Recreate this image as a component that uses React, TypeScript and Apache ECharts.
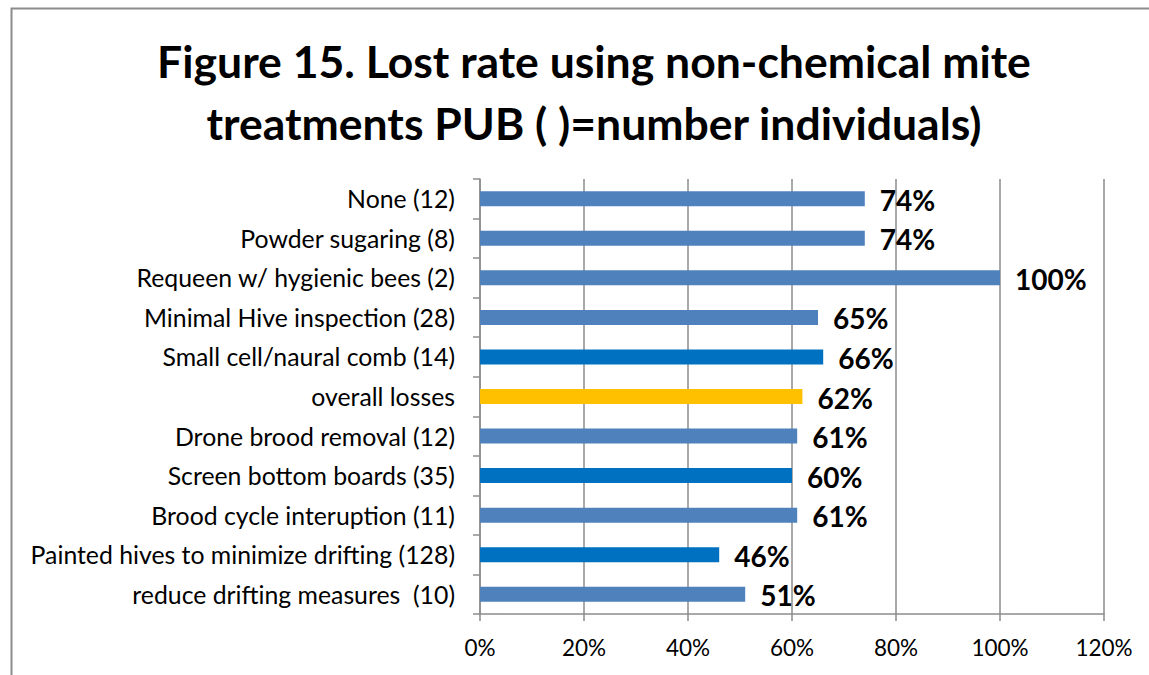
import React, { useEffect, useRef } from "react";
import * as echarts from "echarts";

const categories = [
  "None (12)",
  "Powder sugaring (8)",
  "Requeen w/ hygienic bees (2)",
  "Minimal Hive inspection (28)",
  "Small cell/naural comb (14)",
  "overall losses",
  "Drone brood removal (12)",
  "Screen bottom boards (35)",
  "Brood cycle interuption (11)",
  "Painted hives to minimize drifting (128)",
  "reduce drifting measures  (10)",
];
const values = [0.74, 0.74, 1.0, 0.65, 0.66, 0.62, 0.61, 0.6, 0.61, 0.46, 0.51];
const barColors = [
  "#4F81BD", "#4F81BD", "#4F81BD", "#4F81BD", "#0070C0", "#FFC000",
  "#4F81BD", "#0070C0", "#4F81BD", "#0070C0", "#4F81BD",
];
const titleText = "Figure 15. Lost rate using non-chemical mite\ntreatments PUB ( )=number individuals)";

const FONT = "Lato, 'Open Sans', sans-serif";

export default function App() {
  const ref = useRef<HTMLDivElement>(null);
  useEffect(() => {
    if (!ref.current) return;
    const chart = echarts.init(ref.current, null, { renderer: "svg" });
    chart.setOption({
      animation: false,
      backgroundColor: "#fff",
      title: {
        text: titleText,
        left: 589,
        textAlign: "center",
        top: 24,
        textStyle: {
          fontFamily: FONT,
          fontWeight: "bold",
          fontSize: 44.5,
          lineHeight: 62,
          color: "#000",
        },
      },
      graphic: [
        {
          type: "rect",
          shape: { x: 11.5, y: 8.5, width: 1200, height: 700 },
          style: { fill: "none", stroke: "#8c8c8c", lineWidth: 2 },
          silent: true,
        },
      ],
      grid: { left: 480, right: 45, top: 179, bottom: 61, containLabel: false },
      xAxis: {
        type: "value",
        min: 0,
        max: 1.2,
        interval: 0.2,
        axisLine: { show: true, lineStyle: { color: "#8c8c8c", width: 1.5 } },
        axisTick: { show: true, length: 7, lineStyle: { color: "#8c8c8c", width: 1.5 } },
        splitLine: { show: true, lineStyle: { color: "#8c8c8c", width: 1.5 } },
        axisLabel: {
          formatter: (v: number) => Math.round(v * 100) + "%",
          fontFamily: FONT,
          fontSize: 22.5,
          color: "#000",
          margin: 22,
        },
      },
      yAxis: {
        type: "category",
        data: categories,
        inverse: true,
        axisLine: { show: true, lineStyle: { color: "#8c8c8c", width: 1.5 } },
        axisTick: { show: true, length: 7, lineStyle: { color: "#8c8c8c", width: 1.5 } },
        axisLabel: {
          fontFamily: FONT,
          fontSize: 24.8,
          color: "#000",
          margin: 25,
        },
      },
      series: [
        {
          type: "bar",
          barWidth: 15,
          data: values.map((v, i) => ({ value: v, itemStyle: { color: barColors[i] } })),
          label: {
            show: true,
            position: "right",
            distance: 15,
            formatter: (p: any) => Math.round(p.value * 100) + "%",
            fontFamily: FONT,
            fontWeight: "bold",
            fontSize: 28,
            color: "#000",
            offset: [0, 1],
          },
        },
      ],
    });
    return () => chart.dispose();
  }, []);
  return (
    <div
      ref={ref}
      style={{ position: "fixed", left: 0, top: 0, width: 1149, height: 675 }}
    />
  );
}
